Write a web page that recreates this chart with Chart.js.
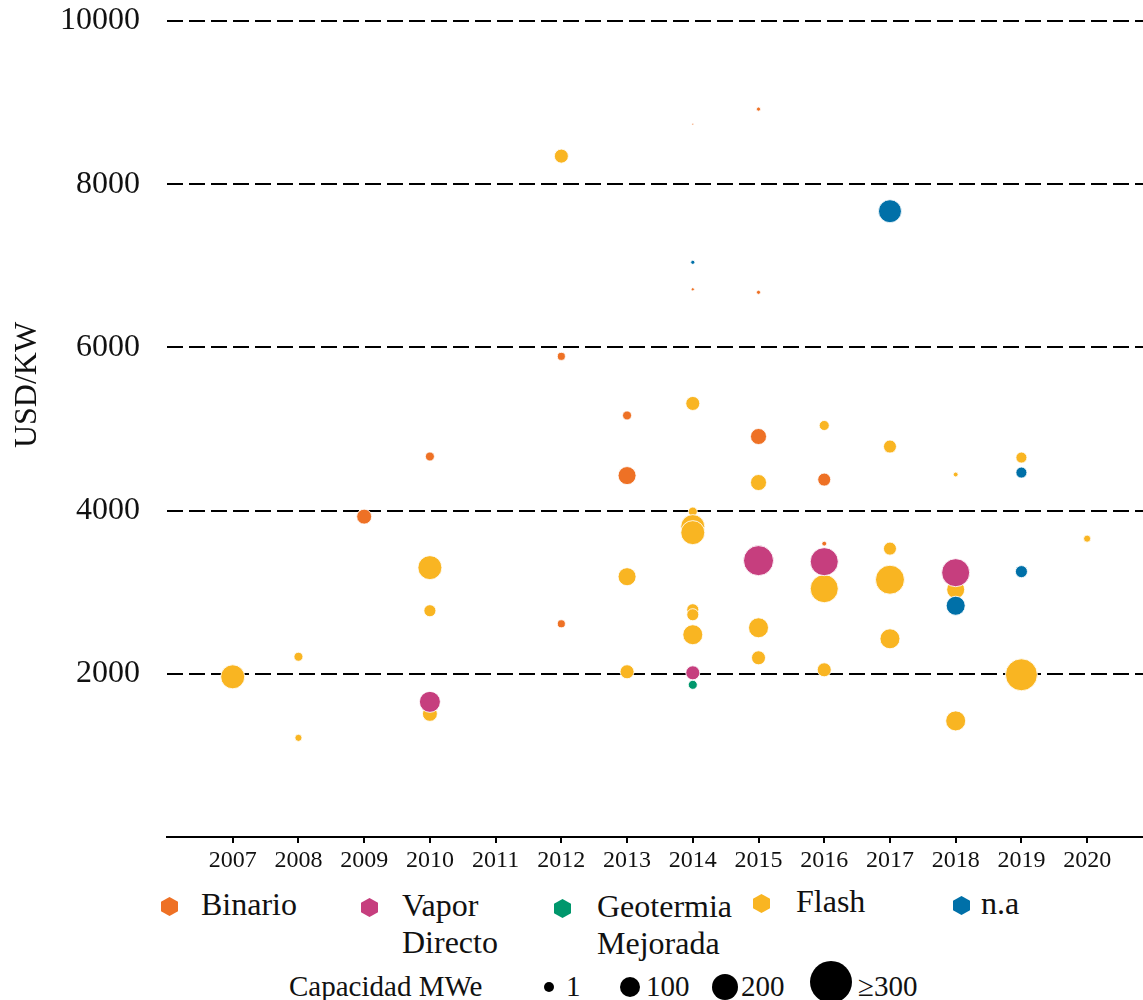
<!DOCTYPE html>
<html>
<head>
<meta charset="utf-8">
<script src="https://cdn.jsdelivr.net/npm/chart.js@4"></script>
<style>
  body { margin: 0; background: #fff; }
  #wrap { position: relative; width: 1143px; height: 1000px; overflow: hidden; font-family: "Liberation Serif", "Times New Roman", serif; color: #111; }
  #chart { position: absolute; left: 0; top: 0; }
  #ytitle { position: absolute; left: -75px; top: 365px; width: 200px; height: 40px; line-height: 40px; text-align: center; font-size: 32px; transform: rotate(-90deg); }
  .item { position: absolute; font-size: 32px; line-height: 37px; white-space: nowrap; }
  .hex { position: absolute; width: 17px; height: 19px; clip-path: polygon(50% 0, 100% 25%, 100% 75%, 50% 100%, 0 75%, 0 25%); }
  .size-label { position: absolute; font-size: 29px; line-height: 30px; white-space: nowrap; }
  .dot { position: absolute; border-radius: 50%; background: #000; }
</style>
</head>
<body>
<div id="wrap">
  <canvas id="chart" width="1143" height="880"></canvas>
  <div id="ytitle">USD/KW</div>
  <div id="legend"></div>
</div>
<script>
const YEARS = [2007, 2008, 2009, 2010, 2011, 2012, 2013, 2014, 2015, 2016, 2017, 2018, 2019, 2020];
const Y_TICKS = [2000, 4000, 6000, 8000, 10000];

// each series: year, USD/kW, capacity MWe
const binarioYear = [2009, 2010, 2012, 2012, 2013, 2013, 2014, 2014, 2015, 2015, 2015, 2016, 2016];
const binarioCost = [3926, 4663, 5890, 2613, 5166, 4429, 8736, 6712, 8920, 6675, 4908, 4380, 3595];
const binarioMW = [66, 24, 19, 19, 24, 96, 1, 3, 5, 5, 76, 50, 7];

const vaporYear = [2010, 2014, 2015, 2016, 2018];
const vaporCost = [1656, 2012, 3387, 3374, 3239];
const vaporMW = [130, 58, 266, 232, 232];

const egsYear = [2014];
const egsCost = [1865];
const egsMW = [24];

const flashYear = [2007, 2008, 2008, 2010, 2010, 2010, 2012, 2013, 2013, 2014, 2014, 2014, 2014, 2014, 2014, 2014,
  2015, 2015, 2015, 2016, 2016, 2016, 2017, 2017, 2017, 2017, 2018, 2018, 2018, 2019, 2019, 2020];
const flashCost = [1963, 2209, 1215, 3301, 2773, 1509, 8344, 3190, 2025, 5313, 3988, 3804, 3730, 2785, 2724, 2479,
  4344, 2564, 2196, 5043, 3043, 2049, 4785, 3534, 3153, 2429, 4442, 3031, 1423, 4650, 1988, 3656];
const flashMW = [170, 24, 15, 170, 43, 66, 58, 96, 58, 58, 24, 170, 170, 43, 43, 118,
  76, 118, 58, 30, 232, 58, 50, 50, 248, 118, 7, 96, 118, 36, 302, 15];

const naYear = [2014, 2017, 2018, 2019, 2019];
const naCost = [7043, 7669, 2834, 4466, 3252];
const naMW = [5, 156, 107, 36, 43];

const SERIES = [
  { name: "Binario", label: ["Binario"], color: "#ee7125", year: binarioYear, cost: binarioCost, mw: binarioMW },
  { name: "Vapor Directo", label: ["Vapor", "Directo"], color: "#c63e7e", year: vaporYear, cost: vaporCost, mw: vaporMW },
  { name: "Geotermia Mejorada", label: ["Geotermia", "Mejorada"], color: "#00976c", year: egsYear, cost: egsCost, mw: egsMW },
  { name: "Flash", label: ["Flash"], color: "#f9b522", year: flashYear, cost: flashCost, mw: flashMW },
  { name: "n.a", label: ["n.a"], color: "#0070a8", year: naYear, cost: naCost, mw: naMW },
];

const FONT = "'Liberation Serif', 'Times New Roman', serif";

function radiusFor(mw) {
  return 0.92 * Math.sqrt(mw);
}

function buildDatasets() {
  return SERIES.map((s) => ({
    label: s.name,
    data: s.year.map((y, i) => ({ x: y, y: s.cost[i], r: radiusFor(s.mw[i]) })),
    backgroundColor: s.color,
    borderColor: "rgba(255,255,255,0.85)",
    borderWidth: 1,
    order: s.name === "Flash" ? 1 : 0,
  }));
}

new Chart(document.getElementById("chart"), {
  type: "bubble",
  data: { datasets: buildDatasets() },
  options: {
    responsive: false,
    animation: false,
    layout: { autoPadding: false, padding: { top: 21, right: 0, left: 0, bottom: 0 } },
    plugins: { legend: { display: false }, tooltip: { enabled: false } },
    scales: {
      x: {
        type: "linear",
        min: 2006,
        max: 2020.85,
        afterBuildTicks: (scale) => {
          scale.ticks = YEARS.map((v) => ({ value: v }));
        },
        afterFit: (scale) => {
          scale.height = 43;
        },
        border: { display: true, color: "#000", width: 2 },
        grid: { drawOnChartArea: false, drawTicks: true, tickLength: 6, color: "#000", lineWidth: 2 },
        ticks: {
          padding: 3,
          color: "#111",
          font: { family: FONT, size: 24 },
          maxRotation: 0,
          autoSkip: false,
          callback: (v) => String(v),
        },
      },
      y: {
        min: 0,
        max: 10000,
        afterBuildTicks: (scale) => {
          scale.ticks = [0, ...Y_TICKS].map((v) => ({ value: v }));
        },
        afterFit: (scale) => {
          scale.width = 167;
        },
        border: { display: false, dash: [16, 6] },
        // invisible tick marks keep the labels away from the plot without adding top padding
        grid: {
          drawTicks: true,
          tickLength: 27,
          tickColor: "rgba(0,0,0,0)",
          color: (c) => (c.tick && c.tick.value === 0 ? "rgba(0,0,0,0)" : "#000"),
          lineWidth: 2,
        },
        ticks: {
          padding: 0,
          color: "#111",
          font: { family: FONT, size: 32 },
          callback: (v) => (v === 0 ? "" : String(v)),
        },
      },
    },
  },
});

// html legend under the plot
const legendEl = document.getElementById("legend");
const LEGEND_X = [161, 361, 554, 753, 953];
const LEGEND_TEXT_X = [201, 402, 597, 796, 981];
const LEGEND_Y = [886, 887, 888, 883, 885];

SERIES.forEach((s, i) => {
  const hex = document.createElement("div");
  hex.className = "hex";
  hex.style.background = s.color;
  hex.style.left = LEGEND_X[i] + "px";
  hex.style.top = LEGEND_Y[i] + 11 + "px";
  legendEl.append(hex);

  const txt = document.createElement("div");
  txt.className = "item";
  txt.style.left = LEGEND_TEXT_X[i] + "px";
  txt.style.top = LEGEND_Y[i] + "px";
  txt.innerHTML = s.label.join("<br>");
  legendEl.append(txt);
});

const SIZE_KEYS = ["1", "100", "200", "\u2265300"];
const SIZE_DIAM = [10, 20, 26, 42];
const SIZE_CX = [549, 630, 725, 831];
const SIZE_TEXT_X = [566, 646, 741, 858];

const cap = document.createElement("div");
cap.className = "size-label";
cap.style.left = "289px";
cap.style.top = "971px";
cap.textContent = "Capacidad MWe";
legendEl.append(cap);

SIZE_KEYS.forEach((k, i) => {
  const d = SIZE_DIAM[i];
  const dot = document.createElement("div");
  dot.className = "dot";
  dot.style.width = d + "px";
  dot.style.height = d + "px";
  dot.style.left = SIZE_CX[i] - d / 2 + "px";
  dot.style.top = 987 - d / 2 - (i === 3 ? 5 : 0) + "px";
  legendEl.append(dot);

  const t = document.createElement("div");
  t.className = "size-label";
  t.style.left = SIZE_TEXT_X[i] + "px";
  t.style.top = "971px";
  t.textContent = k;
  legendEl.append(t);
});
</script>
</body>
</html>
